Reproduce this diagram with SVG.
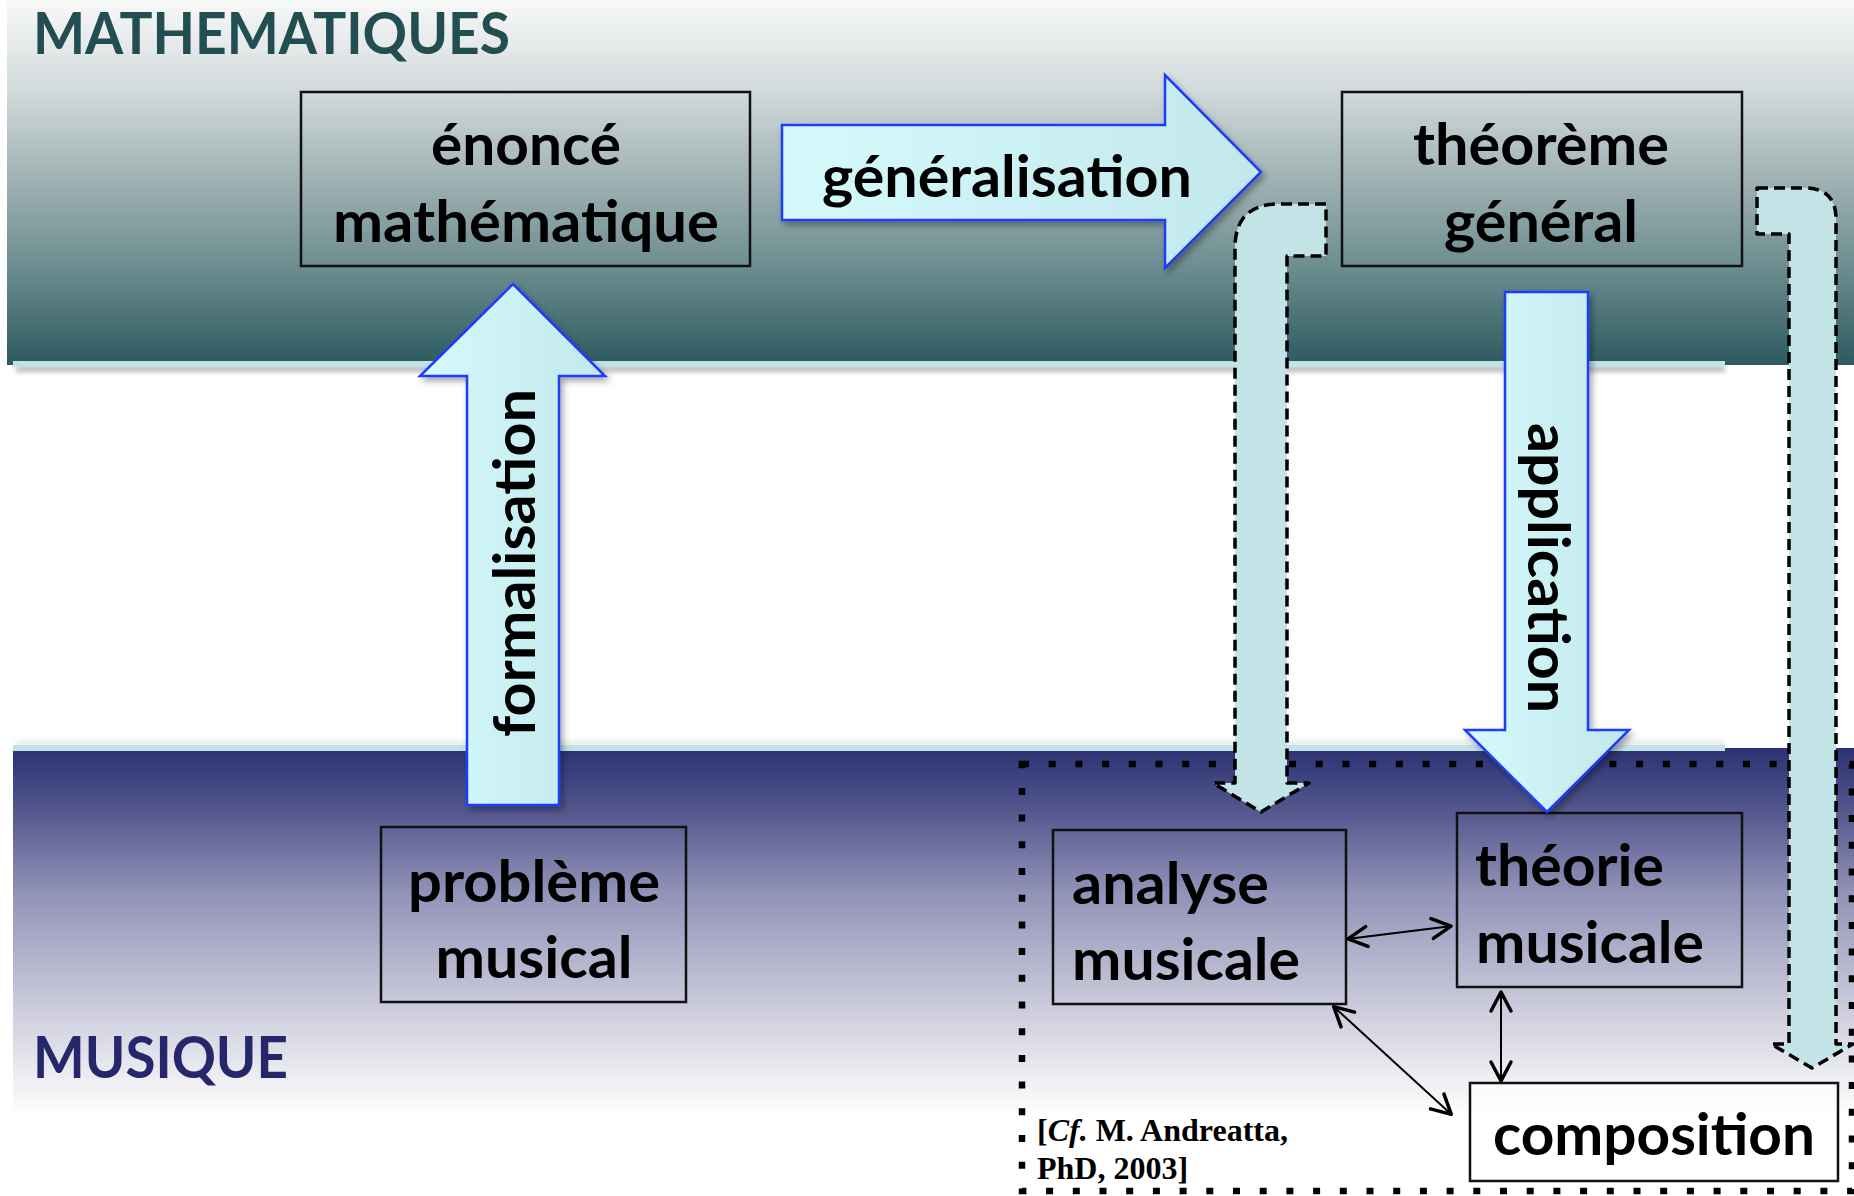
<svg xmlns="http://www.w3.org/2000/svg" width="1854" height="1196" viewBox="0 0 1854 1196">
<defs>
<linearGradient id="gTop" x1="0" y1="0" x2="0" y2="1">
<stop offset="0" stop-color="#f8f9f9"/>
<stop offset="0.25" stop-color="#d1d9da"/>
<stop offset="0.5" stop-color="#9eb0b2"/>
<stop offset="0.75" stop-color="#688a8d"/>
<stop offset="1" stop-color="#2c5a5f"/>
</linearGradient>
<linearGradient id="gBot" x1="0" y1="0" x2="0" y2="1">
<stop offset="0" stop-color="#2c3272"/>
<stop offset="0.15" stop-color="#4e528a"/>
<stop offset="0.4" stop-color="#9294b8"/>
<stop offset="0.7" stop-color="#cacadb"/>
<stop offset="1" stop-color="#ffffff"/>
</linearGradient>
<linearGradient id="gArrow" x1="0" y1="0" x2="1" y2="0">
<stop offset="0" stop-color="#d4fafc"/>
<stop offset="1" stop-color="#c2e8ec"/>
</linearGradient>
<filter id="shadow" x="-10%" y="-10%" width="130%" height="130%">
<feDropShadow dx="3" dy="4" stdDeviation="3" flood-color="#000" flood-opacity="0.35"/>
</filter>
<filter id="blur" x="-5%" y="-100%" width="110%" height="400%">
<feGaussianBlur stdDeviation="2.5"/>
</filter>
<marker id="vhead" markerUnits="userSpaceOnUse" viewBox="-24 -14 28 28" refX="1" refY="0" markerWidth="28" markerHeight="28" orient="auto-start-reverse">
<path d="M-19,-10 L0,0 L-19,10" fill="none" stroke="#000" stroke-width="3.5" stroke-linecap="round" stroke-linejoin="round"/>
</marker>
<style>
.lbl{font-family:Lato,'Open Sans','Liberation Sans',sans-serif;font-weight:700;font-size:57px;fill:#000;}
.box{fill:none;stroke:#111;stroke-width:2.5;}
.block{fill:url(#gArrow);stroke:#1e3cff;stroke-width:2.5;stroke-linejoin:miter;filter:url(#shadow);}
.dashed{fill:#c3e4e6;stroke:#000;stroke-width:3.5;stroke-dasharray:11 6;stroke-linejoin:round;}
.link{fill:none;stroke:#000;stroke-width:2;marker-start:url(#vhead);marker-end:url(#vhead);}
.cite{font-family:'Liberation Serif','Times New Roman',serif;font-weight:700;font-size:32px;fill:#000;}
</style>
</defs>

<g id="background">
<rect x="0" y="0" width="1854" height="1196" fill="#ffffff"/>
<rect x="7" y="0" width="1847" height="365" fill="url(#gTop)"/>
<rect x="13" y="748" width="1841" height="367" fill="url(#gBot)"/>
<rect x="16" y="366" width="1709" height="6" fill="#888" opacity="0.6" filter="url(#blur)"/>
<rect x="13" y="361" width="1712" height="6" fill="#c0e3e5"/>
<rect x="16" y="741" width="1709" height="5" fill="#bbb" opacity="0.4" filter="url(#blur)"/>
<rect x="13" y="745" width="1712" height="6" fill="#c0e3e5"/>
<text x="33" y="54" font-family="Lato,'Open Sans','Liberation Sans',sans-serif" font-weight="700" font-size="57" fill="#224d51" textLength="477" lengthAdjust="spacingAndGlyphs">MATHEMATIQUES</text>
<text x="33" y="1078" font-family="Lato,'Open Sans','Liberation Sans',sans-serif" font-weight="700" font-size="57" fill="#25276a" textLength="255" lengthAdjust="spacingAndGlyphs">MUSIQUE</text>
</g>

<g id="frame-musique">
<rect x="1022" y="764" width="830" height="427" fill="none" stroke="#000" stroke-width="6.5" stroke-dasharray="7 19.7"/>
<text class="cite" y="1141"><tspan x="1037">[</tspan><tspan font-style="italic">Cf.</tspan><tspan> M. Andreatta,</tspan></text>
<text class="cite" x="1037" y="1179">PhD, 2003]</text>
</g>

<g id="node-enonce">
<rect class="box" x="301" y="92" width="449" height="174"/>
<text class="lbl" x="526" y="165" text-anchor="middle" textLength="190" lengthAdjust="spacingAndGlyphs">énoncé</text>
<text class="lbl" x="526" y="242" text-anchor="middle" textLength="386" lengthAdjust="spacingAndGlyphs">mathématique</text>
</g>

<g id="node-theoreme">
<rect class="box" x="1342" y="92" width="400" height="174"/>
<text class="lbl" x="1541" y="165" text-anchor="middle" textLength="256" lengthAdjust="spacingAndGlyphs">théorème</text>
<text class="lbl" x="1541" y="242" text-anchor="middle" textLength="194" lengthAdjust="spacingAndGlyphs">général</text>
</g>

<g id="node-probleme">
<rect class="box" x="381" y="827" width="305" height="175"/>
<text class="lbl" x="534" y="902" text-anchor="middle" textLength="252" lengthAdjust="spacingAndGlyphs">problème</text>
<text class="lbl" x="534" y="978" text-anchor="middle" textLength="197" lengthAdjust="spacingAndGlyphs">musical</text>
</g>

<g id="node-analyse">
<rect class="box" x="1053" y="830" width="293" height="174"/>
<text class="lbl" x="1072" y="904" textLength="197" lengthAdjust="spacingAndGlyphs">analyse</text>
<text class="lbl" x="1072" y="980" textLength="228" lengthAdjust="spacingAndGlyphs">musicale</text>
</g>

<g id="node-theorie">
<rect class="box" x="1457" y="813" width="285" height="174"/>
<text class="lbl" x="1475" y="886" textLength="189" lengthAdjust="spacingAndGlyphs">théorie</text>
<text class="lbl" x="1476" y="963" textLength="228" lengthAdjust="spacingAndGlyphs">musicale</text>
</g>

<g id="node-composition">
<rect class="box" x="1470" y="1083" width="368" height="98" style="fill:#ffffff;fill-opacity:0.6"/>
<text class="lbl" x="1654" y="1155" text-anchor="middle" textLength="322" lengthAdjust="spacingAndGlyphs">composition</text>
</g>

<g id="connectors">
<g id="arrow-formalisation">
<path class="block" d="M467,805 L467,376 L420,376 L513,284 L605,376 L559,376 L559,805 Z"/>
<text class="lbl" transform="translate(535,563) rotate(-90)" text-anchor="middle" textLength="348" lengthAdjust="spacingAndGlyphs">formalisation</text>
</g>
<g id="arrow-generalisation">
<path class="block" d="M782,125 L1165,125 L1165,75 L1261,172 L1165,268 L1165,220 L782,220 Z"/>
<text class="lbl" x="1007" y="197" text-anchor="middle" textLength="370" lengthAdjust="spacingAndGlyphs">généralisation</text>
</g>
<g id="arrow-application">
<path class="block" d="M1505,292 L1588,292 L1588,730 L1629,730 L1547,812 L1465,730 L1505,730 Z"/>
<text class="lbl" transform="translate(1528,568) rotate(90)" text-anchor="middle" textLength="290" lengthAdjust="spacingAndGlyphs">application</text>
</g>
<path id="arrow-to-analyse" class="dashed" d="M1326,204 L1279,204 Q1235,204 1235,248 L1235,783 L1213,783 L1261,812 L1309,783 L1287,783 L1287,256 L1326,256 Z"/>
<path id="arrow-to-composition" class="dashed" d="M1757,188 L1805,188 Q1836,188 1836,219 L1836,1044 L1853,1044 L1812,1068 L1771,1044 L1789,1044 L1789,234 L1757,234 Z"/>
<line class="link" x1="1347" y1="939" x2="1452" y2="926"/>
<line class="link" x1="1501" y1="991" x2="1501" y2="1082"/>
<line class="link" x1="1333" y1="1006" x2="1452" y2="1115"/>
</g>
</svg>
